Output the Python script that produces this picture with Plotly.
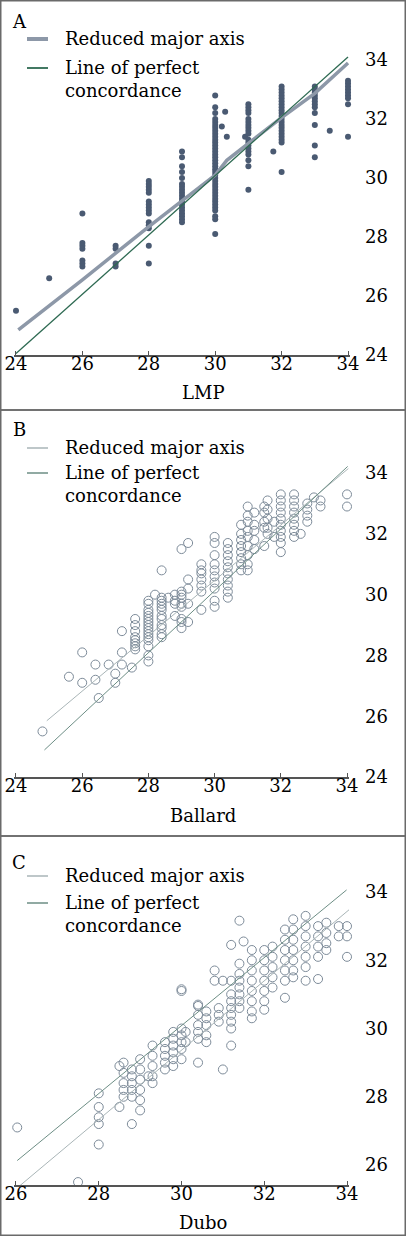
import plotly.graph_objects as go

W, H = 406, 1236
FONT = "DejaVu Serif"

a_cols = [24, 25, 26, 27, 28, 29, 30, 30.2, 30.3, 30.35, 30.9, 31, 31.75, 32, 33, 33.45, 34]
a_vals = [
    [25.5], [26.6], [28.8, 27.8, 27.7, 27.6, 27.2, 27.1, 27.0], [27.7, 27.6, 27.1, 27.0],
    [29.9, 29.8, 29.7, 29.6, 29.5, 29.2, 29.1, 29.0, 28.9, 28.8, 28.5, 28.4, 28.3, 27.7, 27.1],
    [30.9, 30.7, 30.4, 30.2, 30.0, 29.8, 29.7, 29.6, 29.5, 29.4, 29.3, 29.2, 29.1, 29.0, 28.9,
     28.8, 28.7, 28.6, 28.5],
    [32.8, 32.4, 32.2, 32.0, 31.9, 31.8, 31.7, 31.6, 31.5, 31.4, 31.3, 31.2, 31.1, 31.0, 30.9,
     30.8, 30.7, 30.6, 30.5, 30.4, 30.3, 30.2, 30.1, 30.0, 29.9, 29.8, 29.7, 29.6, 29.5, 29.4,
     29.3, 29.2, 29.1, 29.0, 28.9, 28.7, 28.6, 28.1],
    [31.75], [32.25], [31.4], [31.4],
    [32.5, 32.4, 32.3, 32.2, 32.0, 31.9, 31.8, 31.7, 31.6, 31.5, 31.3, 31.2, 31.1, 31.0, 30.9,
     30.8, 30.6, 30.4, 29.6],
    [30.9],
    [33.1, 33.0, 32.9, 32.8, 32.7, 32.6, 32.5, 32.4, 32.3, 32.2, 32.1, 32.0, 31.9, 31.8, 31.7,
     31.6, 31.5, 31.4, 31.3, 31.2, 30.2],
    [33.1, 33.0, 32.9, 32.8, 32.7, 32.6, 32.5, 32.4, 32.2, 31.8, 31.1, 30.7],
    [31.6],
    [33.3, 33.2, 33.1, 33.0, 32.9, 32.8, 32.7, 32.5, 31.4],
]
a_rma_x = [24.07, 26, 28, 29, 30, 30.35, 32, 33, 34]
a_rma_y = [24.85, 26.55, 28.35, 29.23, 30.1, 30.6, 32.05, 32.87, 33.9]
a_con_x = [24, 34]
a_con_y = [24.05, 34.1]

b_cols = [24.8, 25.6, 26.0, 26.4, 26.5, 26.8, 27.0, 27.2, 27.5, 27.6, 28.0, 28.2, 28.4, 28.6,
          28.8, 29.0, 29.2, 29.6, 30.0, 30.4, 30.8, 31.0, 31.2, 31.5, 31.6, 31.8, 32.0, 32.4,
          32.6, 32.8, 33.0, 33.2, 34.0]
b_vals = [
    [25.5], [27.3], [27.1, 28.1], [27.2, 27.7], [26.6], [27.7], [27.4, 27.1],
    [28.8, 28.1, 27.7], [27.6],
    [29.2, 29.0, 28.8, 28.6, 28.5, 28.4, 28.3, 28.2],
    [29.8, 29.7, 29.5, 29.4, 29.3, 29.2, 29.1, 29.0, 28.9, 28.8, 28.7, 28.6, 28.5, 28.3, 28.0, 27.8],
    [30.0],
    [30.8, 29.9, 29.8, 29.7, 29.6, 29.5, 29.3, 29.2, 29.0, 28.9, 28.7, 28.6],
    [29.9], [30.0, 29.8, 29.7, 29.3],
    [31.5, 30.1, 30.0, 29.9, 29.7, 29.6, 29.2, 29.1, 28.9],
    [31.7, 30.5, 30.2, 29.7, 29.1],
    [31.0, 30.8, 30.7, 30.5, 30.3, 30.1, 29.5],
    [31.9, 31.7, 31.3, 31.0, 30.8, 30.6, 30.4, 30.2, 29.8, 29.6],
    [31.7, 31.5, 31.3, 31.1, 30.9, 30.7, 30.5, 30.3, 30.1, 29.9],
    [32.3, 32.0, 31.8, 31.6, 31.4, 31.2, 31.0, 30.8],
    [32.9, 32.6, 32.4, 32.1, 31.9, 31.6, 31.3, 31.0, 30.8],
    [32.7, 32.3, 32.1, 31.8, 31.5],
    [32.9, 32.7, 32.4, 32.2, 31.6],
    [33.1, 32.8, 32.5, 32.2, 32.0],
    [32.4, 31.9],
    [33.3, 33.1, 32.9, 32.7, 32.5, 32.3, 32.1, 31.9, 31.7, 31.4],
    [33.3, 33.1, 32.9, 32.7, 32.5, 32.3, 32.1, 31.9],
    [32.0], [33.0, 32.8, 32.6, 32.4], [33.2], [33.1, 32.9], [33.3, 32.9],
]
b_rma_x = [24.93, 34.04]
b_rma_y = [25.85, 34.15]
b_con_x = [24.86, 34.02]
b_con_y = [24.89, 34.22]

c_cols = [26.03, 27.5, 28.0, 28.5, 28.6, 28.8, 29.0, 29.2, 29.3, 29.6, 29.8, 30.0, 30.1, 30.4,
          30.6, 30.8, 30.9, 31.0, 31.2, 31.4, 31.5, 31.7, 32.0, 32.2, 32.5, 32.7, 33.0, 33.3,
          33.5, 33.8, 34.0]
c_vals = [
    [27.1], [25.5], [28.1, 27.7, 27.4, 27.2, 26.6], [28.9, 27.7],
    [29.0, 28.7, 28.4, 28.2, 28.0], [28.8, 28.6, 28.4, 28.2, 28.0, 27.2],
    [29.1, 28.8, 28.5, 28.2, 27.9, 27.6], [28.6], [29.5, 29.2, 28.9, 28.6, 28.4],
    [29.6, 29.4, 29.2, 29.0, 28.8], [29.9, 29.7, 29.5, 29.3, 29.1, 28.9],
    [31.15, 31.1, 30.0, 29.8, 29.6, 29.4, 29.1], [29.9, 29.6],
    [30.7, 30.66, 30.4, 30.1, 29.9, 29.7, 29.0], [30.5, 30.3, 30.1, 29.8, 29.6],
    [31.7, 31.4], [30.6, 30.4, 30.2], [31.4, 28.8],
    [32.45, 31.4, 31.0, 30.8, 30.6, 30.4, 30.2, 30.0, 29.5],
    [33.16, 31.9, 31.6, 31.4, 31.2, 31.0, 30.8, 30.6], [32.55],
    [32.3, 32.0, 31.7, 31.4, 31.1, 30.8, 30.5, 30.3],
    [32.3, 32.0, 31.7, 31.4, 31.1, 30.8, 30.55], [32.4, 32.1, 31.8, 31.5, 31.2],
    [32.9, 32.6, 32.3, 32.0, 31.7, 31.4, 30.9], [33.2, 32.9, 32.6, 32.3, 32.0, 31.7, 31.5],
    [33.3, 33.0, 32.7, 32.4, 32.1, 31.8, 31.4], [33.0, 32.7, 32.4, 32.1, 31.45],
    [33.1, 32.8, 32.5, 32.3], [33.0, 32.7], [33.0, 32.7, 32.1],
]
c_rma_x = [26.06, 34.05]
c_rma_y = [25.36, 33.48]
c_con_x = [26.03, 33.99]
c_con_y = [26.13, 34.06]

x_ticks_ab = [24, 26, 28, 30, 32, 34]
x_ticks_c = [26, 28, 30, 32, 34]
y_ticks_ab = [24, 26, 28, 30, 32, 34]
y_ticks_c = [26, 28, 30, 32, 34]

legend_labels = ["Reduced major axis", "Line of perfect<br>concordance"]


def flatten(cols, vals):
    xs, ys = [], []
    for c, vs in zip(cols, vals):
        for v in vs:
            xs.append(c)
            ys.append(v)
    return xs, ys


def fx(px):
    return px / W


def fy(py):
    return 1 - py / H


RMA_A = dict(color="#8d98a8", width=3.5)
CON_A = dict(color="#2e6a52", width=1.3)
RMA_BC = dict(color="#a9b5b7", width=1)
CON_BC = dict(color="#6d8e85", width=1)

fig = go.Figure()

ax, ay = flatten(a_cols, a_vals)
fig.add_trace(go.Scatter(x=ax, y=ay, mode="markers", xaxis="x", yaxis="y", showlegend=False,
                         cliponaxis=False,
                         marker=dict(symbol="circle", size=6, color="#4a5a72")))
fig.add_trace(go.Scatter(x=a_rma_x, y=a_rma_y, mode="lines", xaxis="x", yaxis="y",
                         name=legend_labels[0], showlegend=False, line=RMA_A))
fig.add_trace(go.Scatter(x=a_con_x, y=a_con_y, mode="lines", xaxis="x", yaxis="y",
                         name=legend_labels[1], showlegend=False, line=CON_A))

bx, by = flatten(b_cols, b_vals)
fig.add_trace(go.Scatter(x=bx, y=by, mode="markers", xaxis="x2", yaxis="y2", showlegend=False,
                         cliponaxis=False,
                         marker=dict(symbol="circle-open", size=9, color="#7d8b99",
                                     line=dict(width=1))))
fig.add_trace(go.Scatter(x=b_rma_x, y=b_rma_y, mode="lines", xaxis="x2", yaxis="y2",
                         name=legend_labels[0], showlegend=False, line=RMA_BC))
fig.add_trace(go.Scatter(x=b_con_x, y=b_con_y, mode="lines", xaxis="x2", yaxis="y2",
                         name=legend_labels[1], showlegend=False, line=CON_BC))

cx, cy = flatten(c_cols, c_vals)
fig.add_trace(go.Scatter(x=cx, y=cy, mode="markers", xaxis="x3", yaxis="y3", showlegend=False,
                         cliponaxis=False,
                         marker=dict(symbol="circle-open", size=9, color="#7d8b99",
                                     line=dict(width=1))))
fig.add_trace(go.Scatter(x=c_rma_x, y=c_rma_y, mode="lines", xaxis="x3", yaxis="y3",
                         name=legend_labels[0], showlegend=False, line=RMA_BC))
fig.add_trace(go.Scatter(x=c_con_x, y=c_con_y, mode="lines", xaxis="x3", yaxis="y3",
                         name=legend_labels[1], showlegend=False, line=CON_BC))

tickfont = dict(family=FONT, size=18, color="black")


def xax(domain_px, rng, ticks, anchor):
    return dict(domain=[fx(domain_px[0]), fx(domain_px[1])], range=rng, anchor=anchor,
                tickvals=ticks, ticks="inside", ticklen=4, tickcolor="#555", tickwidth=1,
                showline=True, linecolor="#555", linewidth=1.5, showgrid=False,
                zeroline=False, tickfont=tickfont, fixedrange=True, automargin=False,
                ticklabelstandoff=-8)


def yax(domain_py, rng, ticks):
    return dict(domain=[fy(domain_py[0]), fy(domain_py[1])], range=rng, anchor="free",
                position=fx(364), side="right", tickvals=ticks, ticks="", showline=False,
                showgrid=False, zeroline=False, tickfont=tickfont, fixedrange=True,
                automargin=False)


annotations = []
shapes = []
txtfont = dict(family=FONT, size=18, color="black")
for txt, px, py in [("A", 19, 22), ("B", 19, 430), ("C", 19, 863)]:
    annotations.append(dict(text=txt, x=fx(px), y=fy(py), xref="paper", yref="paper",
                            showarrow=False, font=txtfont, xanchor="center", yanchor="middle"))
for txt, py in [("LMP", 392), ("Ballard", 815), ("Dubo", 1222)]:
    annotations.append(dict(text=txt, x=fx(203), y=fy(py), xref="paper", yref="paper",
                            showarrow=False, font=txtfont, xanchor="center", yanchor="middle"))

# legends: (first-line y of RMA entry, first-line y of concordance entry, styles)
for y_rma, y_con, s_rma, s_con in [(39, 68, RMA_A, CON_A), (448, 473, RMA_BC, CON_BC),
                                    (876, 903, RMA_BC, CON_BC)]:
    for yy, st, lab in [(y_rma, s_rma, legend_labels[0]), (y_con, s_con, legend_labels[1])]:
        shapes.append(dict(type="line", xref="paper", yref="paper", x0=fx(27), x1=fx(48),
                           y0=fy(yy), y1=fy(yy),
                           line=dict(color=st["color"], width=st["width"] + 0.5)))
        annotations.append(dict(text=lab, x=fx(64), y=fy(yy - 12), xref="paper", yref="paper",
                                showarrow=False, font=txtfont, xanchor="left", yanchor="top",
                                align="left", borderpad=0))

for y0, y1 in [(0.75, 410), (410, 836), (836, 1235.25)]:
    shapes.append(dict(type="rect", xref="paper", yref="paper", x0=fx(0.75), x1=fx(405.25),
                       y0=fy(y0), y1=fy(y1), line=dict(color="#6a6a6a", width=1.5)))

fig.update_layout(
    width=W, height=H, margin=dict(l=0, r=0, t=0, b=0, autoexpand=False),
    paper_bgcolor="white", plot_bgcolor="white",
    xaxis=xax((14, 350), [23.94, 34.06], x_ticks_ab, "y"),
    yaxis=yax((355, 40), [24, 34.678], y_ticks_ab),
    xaxis2=xax((14, 349), [23.94, 34.06], x_ticks_ab, "y2"),
    yaxis2=yax((777, 450), [24, 34.76], y_ticks_ab),
    xaxis3=xax((14, 349), [25.952, 34.048], x_ticks_c, "y3"),
    yaxis3=yax((1185, 875), [25.414, 34.498], y_ticks_c),
    showlegend=False,
    annotations=annotations, shapes=shapes,
)

fig.write_html("out.html", config={"displayModeBar": False},
               post_script="document.body.style.margin='0px';")
